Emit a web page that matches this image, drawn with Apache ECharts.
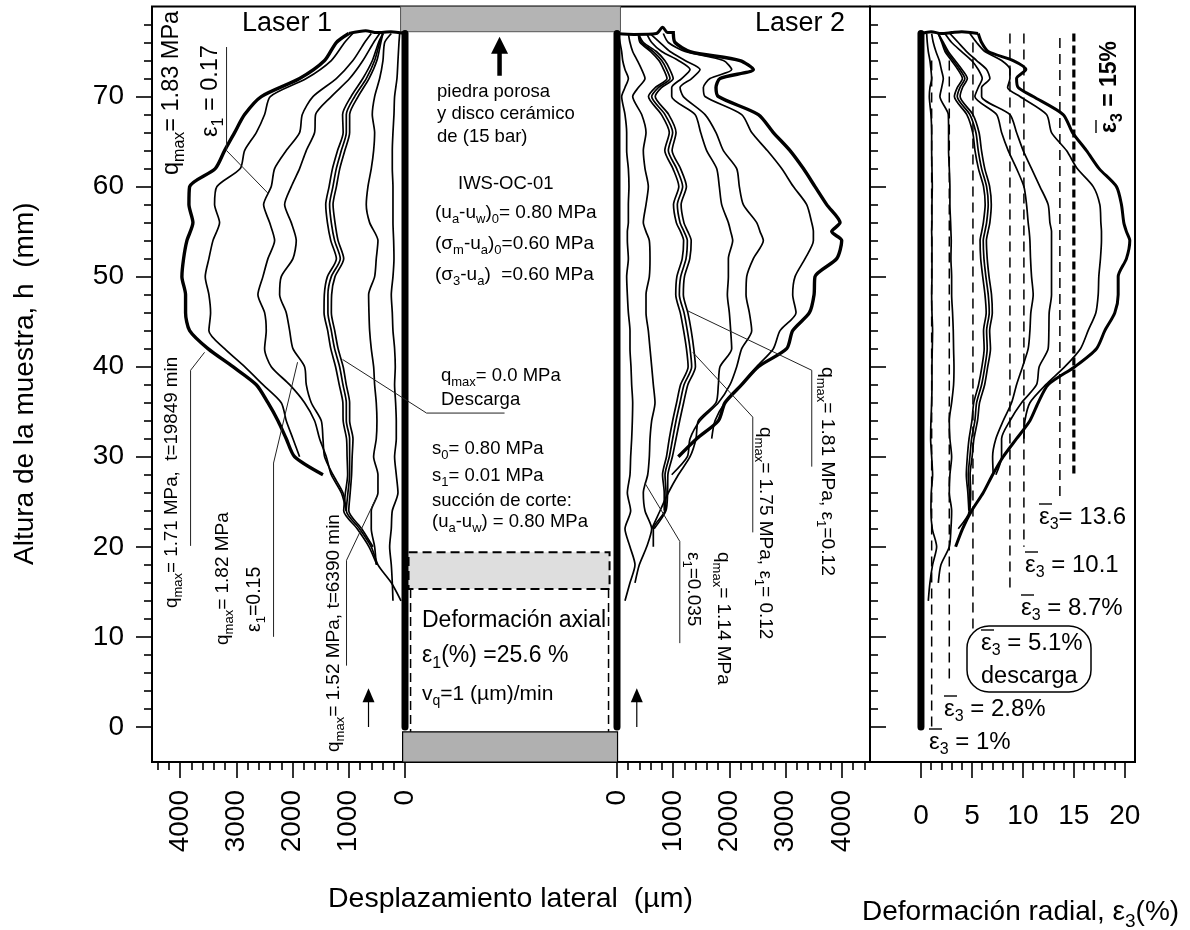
<!DOCTYPE html>
<html>
<head>
<meta charset="utf-8">
<title>IWS-OC-01</title>
<script src="https://cdn.jsdelivr.net/npm/echarts@6/dist/echarts.min.js"></script>
<style>
html, body { margin: 0; padding: 0; background: #fff; }
#chart { width: 1190px; height: 930px; }
</style>
</head>
<body>
<div id="chart"></div>
<script>
// alturas (mm) comunes a las curvas de cada panel
const H_LASER1 = [77, 76, 74, 72, 70, 68, 66, 64, 62, 60, 58, 56, 54, 52, 50, 48, 46, 44, 42, 40, 38, 36, 34, 32, 30, 28, 26, 24, 22, 20, 18, 16, 14]
const H_LASER2 = [77, 76, 75, 74, 73, 72, 71, 70, 68, 66, 64, 62, 60, 58, 56, 55, 54, 52, 50, 48, 46, 44, 42, 40, 38, 36, 34, 32, 30, 28, 26, 24, 22, 20, 18, 16, 14]

// Laser 1, desplazamiento lateral (um)
const L1_A = [1000, 1222, 1430, 1875, 2556, 2853, 3031, 3209, 3375, 3831, 3843, 3772, 3879, 3938, 3968, 3903, 3903, 3831, 3505, 3061, 2645, 2438, 2260, 2112, 1963, 1459]
const L1_B = [930, 1074, 1311, 1756, 2396, 2497, 2645, 2853, 2930, 3345, 3387, 3298, 3416, 3488, 3553, 3488, 3458, 3488, 3209, 2853, 2527, 2201, 2112, 1993, 1875]
const L1_C = [600, 718, 926, 1222, 1637, 1827, 1875, 2112, 2319, 2379, 2515, 2408, 2319, 2438, 2527, 2616, 2497, 2468, 2497, 2379, 2052, 1786, 1608, 1519, 1400, 1311, 1133, 1044]
const L1_D = [451, 558, 748, 985, 1311, 1590, 1608, 1756, 1875, 2023, 2141, 2023, 1934, 1993, 2201, 2230, 2112, 2052, 1993, 1786, 1756, 1667, 1489, 1459, 1430, 1281, 1104, 1044]
const L1_E = [392, 470, 580, 750, 960, 1110, 1100, 1200, 1290, 1350, 1410, 1380, 1320, 1220, 1380, 1435, 1440, 1375, 1320, 1235, 1170, 1105, 1100, 1040, 1030, 1020, 1060, 1090, 850, 640, 500]
const L1_F = [392, 451, 540, 689, 896, 1044, 1044, 1133, 1222, 1282, 1341, 1311, 1252, 1151, 1311, 1371, 1371, 1311, 1252, 1163, 1104, 1044, 1044, 985, 985, 985, 1015, 1044, 807, 600, 481, 243, 71]
const L1_G = [392, 430, 500, 640, 835, 985, 985, 1070, 1160, 1220, 1280, 1245, 1190, 1090, 1245, 1305, 1310, 1250, 1190, 1100, 1045, 985, 985, 925, 940, 950, 975, 1000, 770, 570]
const L1_H = [243, 362, 392, 451, 540, 582, 540, 558, 600, 659, 689, 629, 481, 511, 540, 647, 641, 629, 600, 558, 540, 511, 499, 511, 558, 481, 481, 600, 600, 540, 511]
const L1_I = [95, 107, 125, 143, 185, 196, 214, 226, 226, 214, 214, 214, 202, 196, 214, 244, 226, 214, 185, 173, 185, 167, 155, 155, 185, 155, 125, 226, 244, 273, 244, 226, 214]
const L1_TOP = [[0, 77], [250, 77.2], [500, 77.1], [700, 77.3], [1000, 77]]

// Laser 2, desplazamiento lateral (um)
const L2_A = [1002, 1032, 1299, 2188, 2425, 1832, 1761, 1803, 2514, 2781, 3078, 3315, 3522, 3730, 3967, 3819, 3997, 3908, 3522, 3505, 3422, 3125, 3018, 2514, 2218, 1921, 1803, 1417, 1091]
const L2_B = [824, 913, 1210, 1892, 2040, 1654, 1536, 1566, 2218, 2396, 2674, 2929, 3137, 3374, 3463, 3493, 3493, 3345, 3167, 3125, 3184, 2900, 2781, 2485, 2218, 1921, 1743, 1684]
const L2_C = [587, 765, 943, 1210, 1477, 1328, 1121, 1180, 1566, 1761, 1892, 2129, 2176, 2247, 2485, 2544, 2603, 2425, 2307, 2295, 2354, 2396, 2218, 2129, 2010, 1803, 1477, 1299, 1251, 973]
const L2_D = [528, 617, 795, 1091, 1299, 1150, 973, 973, 1388, 1488, 1595, 1773, 1820, 1862, 1981, 2022, 2058, 1981, 1981, 1963, 1998, 2022, 2040, 1832, 1803, 1761, 1447, 1405, 1299, 1091, 913, 765, 617]
const L2_E = [380, 470, 700, 850, 940, 1000, 790, 680, 920, 1050, 980, 1130, 1235, 1140, 1190, 1260, 1320, 1295, 1200, 1180, 1260, 1320, 1365, 1395, 1260, 1185, 1115, 1050, 985, 905, 900, 870, 660]
const L2_F = [380, 439, 646, 795, 884, 943, 735, 617, 854, 990, 913, 1061, 1168, 1073, 1121, 1192, 1251, 1228, 1133, 1109, 1192, 1251, 1299, 1328, 1192, 1121, 1050, 990, 931, 854, 872, 854, 646, 646]
const L2_G = [380, 410, 600, 745, 830, 890, 680, 560, 790, 930, 850, 995, 1100, 1005, 1055, 1130, 1185, 1160, 1065, 1045, 1125, 1185, 1235, 1265, 1130, 1060, 990, 930, 880, 810, 840, 840]
const L2_H = [202, 231, 279, 362, 439, 498, 380, 279, 439, 516, 468, 498, 557, 516, 468, 516, 575, 587, 575, 516, 516, 557, 587, 617, 646, 676, 617, 587, 575, 546, 468, 498, 617, 528, 397, 320]
const L2_I = [24, 53, 83, 101, 142, 202, 142, 83, 142, 172, 172, 202, 213, 202, 202, 184, 184, 202, 172, 184, 202, 231, 231, 249, 261, 279, 273, 261, 243, 231, 184, 243, 142, 231, 320, 231, 142]
const L2_TOP = [[0, 77], [300, 76.9], [700, 77], [812, 77.7], [900, 77.1], [1030, 77.1]]

// deformacion radial (%)
const E3_A = [5.62, 5.95, 6.6, 9.05, 10.29, 9.38, 9.54, 11.01, 13.95, 14.87, 16.24, 17.48, 19.18, 19.67, 19.9, 20.16, 20.49, 20.16, 19.35, 19.35, 19.02, 18.04, 17.22, 15.1, 12.48, 11.5, 10.69, 9.38, 8.07, 7.03, 6.11, 4.97, 4.08, 3.4]
const E3_B = [4.8, 5.46, 6.27, 7.91, 8.73, 8.73, 8.5, 9.71, 12.32, 12.81, 14.28, 15.33, 16.9, 17.55, 17.65, 17.71, 17.71, 17.61, 17.45, 17.39, 17.16, 16.4, 15.65, 14.12, 12.25, 10.69, 10.2, 10.1]
const E3_C = [2.84, 3.66, 4.48, 5.46, 6.44, 6.76, 5.95, 5.95, 8.73, 9.38, 10.03, 10.85, 11.67, 12.48, 12.65, 12.81, 12.81, 12.81, 12.81, 12.81, 12.58, 12.55, 12.48, 11.6, 11.34, 9.87, 8.73, 7.91, 7.91, 7.35]
const E3_D = [2.35, 3.01, 3.99, 4.97, 5.62, 6.01, 5.62, 5.29, 7.42, 7.91, 8.56, 9.38, 10.1, 10.36, 10.52, 10.62, 10.69, 10.75, 10.85, 11.01, 10.78, 10.69, 10.52, 9.97, 9.38, 8.89, 8.07, 7.35, 7.03, 7.09]
const E3_E = [1.7, 2.2, 2.68, 3.35, 4.02, 4.55, 4.08, 3.84, 5.1, 5.7, 5.94, 6.26, 6.74, 6.9, 6.76, 6.58, 6.42, 6.5, 6.68, 6.92, 7.0, 6.74, 6.82, 6.55, 6.25, 5.75, 5.55, 5.2, 5.02, 4.82, 4.88, 4.8]
const E3_F = [1.7, 2.12, 2.52, 3.17, 3.82, 4.31, 3.82, 3.56, 4.8, 5.39, 5.62, 5.95, 6.44, 6.6, 6.44, 6.27, 6.11, 6.18, 6.37, 6.6, 6.7, 6.44, 6.5, 6.27, 5.95, 5.46, 5.29, 4.97, 4.8, 4.64, 4.74, 4.74, 3.66]
const E3_G = [1.7, 2.04, 2.36, 2.99, 3.62, 4.07, 3.56, 3.28, 4.5, 5.08, 5.3, 5.64, 6.14, 6.3, 6.12, 5.96, 5.8, 5.86, 6.06, 6.28, 6.4, 6.14, 6.2, 5.98, 5.65, 5.18, 5.0, 4.72, 4.55, 4.45, 4.6, 4.7]
const E3_H = [1.05, 1.21, 1.47, 1.8, 2.0, 2.19, 2.03, 1.86, 2.68, 2.71, 2.71, 2.78, 2.84, 2.84, 2.91, 2.94, 2.97, 2.94, 3.01, 3.01, 3.1, 3.17, 3.2, 3.24, 3.2, 3.01, 2.78, 2.84, 3.01, 2.84, 2.78, 3.01, 2.94, 2.78, 1.96, 1.7]
const E3_I = [0.56, 0.62, 0.72, 0.88, 0.98, 1.05, 0.88, 0.82, 0.98, 1.05, 1.05, 1.08, 1.11, 1.08, 1.08, 1.05, 1.08, 1.08, 1.08, 1.05, 1.08, 1.14, 1.11, 1.08, 1.08, 1.05, 0.98, 0.95, 1.05, 1.14, 1.01, 0.98, 1.11, 1.54, 1.14, 0.88, 0.72]
const E3_TOP = [[0, 77], [1, 77.2], [2, 77], [3, 77.1], [4, 77.2], [5.6, 77]]

// deformacion radial media: valor, altura superior e inferior del tramo (mm)
const MEAN_EPS = [1.05, 2.78, 5.1, 8.73, 10.1, 13.63]
const MEAN_TOP = [74, 74, 76, 77, 77, 76.5]
const MEAN_BOTTOM = [0, 5, 10.4, 15, 20, 25]
const MEAN_THICK = [[15, 77], [15, 28]]

// ejes
const H_TICKS = [0, 10, 20, 30, 40, 50, 60, 70]
const H_MINOR = [2, 4, 6, 8, 12, 14, 16, 18, 22, 24, 26, 28, 32, 34, 36, 38, 42, 44, 46, 48, 52, 54, 56, 58, 62, 64, 66, 68, 72, 74, 76, 78]
const UM_TICKS = [0, 1000, 2000, 3000, 4000]
const UM_MINOR = [200, 400, 600, 800, 1200, 1400, 1600, 1800, 2200, 2400, 2600, 2800, 3200, 3400, 3600, 3800, 4200, 4400]
const EPS_TICKS = [0, 5, 10, 15, 20]
const EPS_MINOR = [1, 2, 3, 4, 6, 7, 8, 9, 11, 12, 13, 14, 16, 17, 18, 19]

// lineas guia de las anotaciones: [um, mm]
const GUIDE_L1 = [
    [[3174, 75.5], [3174, 64], [2427, 59.2]],
    [[3814, 20.1], [3814, 39.6], [3565, 41.6]],
    [[2338, 10], [2338, 29.3], [1911, 40.5]],
    [[1040, 6.8], [1040, 18.5], [507, 25.5]]
]
const GUIDE_L2 = [
    [[3464, 28.9], [3464, 39.6], [1259, 46.2]],
    [[2415, 21.6], [2415, 34.4], [1348, 41.6]],
    [[1117, 9.3], [1117, 20.6], [494, 27.1]]
]
// piezas de la celda sobre el ancho de la muestra (um desde la cara del Laser 1)
const GUIDE_CENTER = [[1769, 34.85], [382, 34.85], [-1111, 40.8]]
const STONE_TOP = [-80, 3830, 77.2, 80]
const STONE_BOTTOM = [-44, 3778, -3.9, -0.55]
const STONE_MID = [62, 3636, 15.3, 19.4]
const SIDE_DASH = [98, 3618]
const ARROW_CENTER = [1680, 72.3, 75.7]
const ARROW_L1 = [649, 0, 3.5]
const ARROW_L2 = [352, 0, 3.5]

const FONT = '"Liberation Sans", Arial, sans-serif'
const BLACK = '#000'

const zip = (hs, vs) => vs.map((v, i) => [v, hs[i]])

const curve = (data, axis, width) => ({
    type: 'line',
    data,
    xAxisIndex: axis.x,
    yAxisIndex: axis.y,
    symbol: 'none',
    smooth: 0.25,
    silent: true,
    lineStyle: { color: BLACK, width: width || 1.7 }
})

const straight = (data, axis, style) => ({
    type: 'line',
    data,
    xAxisIndex: axis.x,
    yAxisIndex: axis.y,
    symbol: 'none',
    silent: true,
    z: 3,
    lineStyle: Object.assign({ color: '#222', width: 1 }, style)
})

const AXIS_L1 = { x: 0, y: 0 }
const AXIS_L2 = { x: 2, y: 2 }
const AXIS_E3 = { x: 4, y: 3 }
const AXIS_CELL = { x: 6, y: 5 }

const block = (row, fill, stroke) => ({
    type: 'custom',
    xAxisIndex: AXIS_CELL.x,
    yAxisIndex: AXIS_CELL.y,
    silent: true,
    z: 1,
    data: [row],
    renderItem: (params, api) => {
        const a = api.coord([api.value(0), api.value(3)])
        const b = api.coord([api.value(1), api.value(2)])
        return {
            type: 'rect',
            shape: { x: a[0], y: a[1], width: b[0] - a[0], height: b[1] - a[1] },
            style: Object.assign({ fill }, stroke)
        }
    }
})

const arrow = (a, axis, stem, size) => straight([
    { value: [a[0], a[1]], symbol: 'none' },
    { value: [a[0], a[2]], symbol: 'triangle', symbolSize: size, itemStyle: { color: BLACK } }
], axis, { color: BLACK, width: stem })

const series = [
    block(STONE_TOP, '#b4b4b4', { stroke: '#555', lineWidth: 1 }),
    block(STONE_BOTTOM, '#b0b0b0', { stroke: BLACK, lineWidth: 1.2 }),
    block(STONE_MID, '#dedede', { stroke: BLACK, lineWidth: 2, lineDash: [9, 5] }),
    straight([[SIDE_DASH[0], 15.3], [SIDE_DASH[0], -0.55]], AXIS_CELL, { color: BLACK, width: 1.5, type: [9, 5] }),
    straight([[SIDE_DASH[1], 15.3], [SIDE_DASH[1], -0.55]], AXIS_CELL, { color: BLACK, width: 1.5, type: [9, 5] })
]

;[L1_B, L1_C, L1_D, L1_E, L1_F, L1_G, L1_H, L1_I].forEach(v => series.push(curve(zip(H_LASER1, v), AXIS_L1)))
series.push(curve(zip(H_LASER1, L1_A), AXIS_L1, 3.4))
series.push(curve(L1_TOP, AXIS_L1, 3))

;[L2_B, L2_C, L2_D, L2_E, L2_F, L2_G, L2_H, L2_I].forEach(v => series.push(curve(zip(H_LASER2, v), AXIS_L2)))
series.push(curve(zip(H_LASER2, L2_A), AXIS_L2, 3.4))
series.push(curve(L2_TOP, AXIS_L2, 3))

;[E3_B, E3_C, E3_D, E3_E, E3_F, E3_G, E3_H, E3_I].forEach(v => series.push(curve(zip(H_LASER2, v), AXIS_E3)))
series.push(curve(zip(H_LASER2, E3_A), AXIS_E3, 3))
series.push(curve(E3_TOP, AXIS_E3, 3))

MEAN_EPS.forEach((e, i) => {
    series.push(straight([[e, MEAN_TOP[i]], [e, MEAN_BOTTOM[i]]], AXIS_E3, { color: BLACK, width: 1.5, type: [10, 6] }))
})
series.push(straight(MEAN_THICK, AXIS_E3, { color: BLACK, width: 3.2, type: [8, 4] }))

const bar = { color: BLACK, width: 7, cap: 'round' }
series.push(straight([[0, 77], [0, 0]], AXIS_L1, bar))
series.push(straight([[0, 77], [0, 0]], AXIS_L2, bar))
series.push(straight([[0, 77], [0, 0]], AXIS_E3, bar))

GUIDE_L1.forEach(g => series.push(straight(g, AXIS_L1)))
GUIDE_L2.forEach(g => series.push(straight(g, AXIS_L2)))
series.push(straight(GUIDE_CENTER, AXIS_CELL))

series.push(arrow(ARROW_CENTER, AXIS_CELL, 4.5, [17, 17]))
series.push(arrow(ARROW_L1, AXIS_L1, 1.2, [12, 14]))
series.push(arrow(ARROW_L2, AXIS_L2, 1.2, [12, 14]))

const Y_MIN = -3.9
const Y_MAX = 80
const tickLine = { color: BLACK, width: 1.6 }
const noLine = { show: false, onZero: false }
const plain = v => String(v)

const bottomAxis = (gridIndex, min, max, inverse, ticks, minor, label) => [
    {
        type: 'value', gridIndex, min, max, inverse, position: 'bottom',
        splitLine: { show: false }, axisLine: noLine,
        axisTick: { length: 16, lineStyle: tickLine, customValues: ticks },
        axisLabel: Object.assign({ customValues: ticks, formatter: plain, color: BLACK, fontFamily: FONT, fontSize: 28 }, label)
    },
    {
        type: 'value', gridIndex, min, max, inverse, position: 'bottom',
        splitLine: { show: false }, axisLine: noLine,
        axisTick: { length: 8, lineStyle: tickLine, customValues: minor },
        axisLabel: { show: false }
    }
]

const sideAxis = (gridIndex, position, inside, ticks, minor, label) => [
    {
        type: 'value', gridIndex, position, min: Y_MIN, max: Y_MAX,
        splitLine: { show: false }, axisLine: noLine,
        axisTick: { inside, length: 16, lineStyle: tickLine, customValues: ticks },
        axisLabel: label
    },
    {
        type: 'value', gridIndex, position, min: Y_MIN, max: Y_MAX,
        splitLine: { show: false }, axisLine: noLine,
        axisTick: { inside, length: 8, lineStyle: tickLine, customValues: minor },
        axisLabel: { show: false }
    }
]

const hiddenY = gridIndex => ({ type: 'value', gridIndex, min: Y_MIN, max: Y_MAX, show: false })

// texto con subindices: {s|...} en la marca, el resto normal
const note = (x, y, text, size, opts) => {
    const o = opts || {}
    const subSize = Math.round(size * 0.68)
    return {
        type: 'text',
        x, y,
        rotation: o.rot || 0,
        silent: true,
        z: 20,
        style: {
            text,
            fill: BLACK,
            fontFamily: FONT,
            fontSize: size,
            fontWeight: o.bold ? 'bold' : 'normal',
            align: 'left',
            verticalAlign: 'middle',
            rich: {
                s: {
                    fontFamily: FONT, fontSize: subSize, fill: BLACK,
                    fontWeight: o.bold ? 'bold' : 'normal',
                    verticalAlign: 'bottom', lineHeight: Math.round(size * 1.35)
                }
            }
        }
    }
}

// barra sobre la epsilon de las deformaciones medias
const overbar = (x, y, rot) => ({
    type: 'line',
    silent: true,
    z: 20,
    shape: rot
        ? { x1: x - 14, y1: y, x2: x - 14, y2: y - 13 }
        : { x1: x, y1: y - 13, x2: x + 13, y2: y - 13 },
    style: { stroke: BLACK, lineWidth: 1.4 }
})

const UP = Math.PI / 2
const DOWN = -Math.PI / 2

const notes = [
    note(242, 24, 'Laser 1', 27),
    note(755, 24, 'Laser 2', 27),
    note(172, 175, 'q{s|max}= 1.83 MPa', 23.5, { rot: UP }),
    note(211, 137, 'ε{s|1} = 0.17', 23.5, { rot: UP }),
    note(172, 608, 'q{s|max}= 1.71 MPa,  t=19849 min', 18.8, { rot: UP }),
    note(223, 645, 'q{s|max}= 1.82 MPa', 19, { rot: UP }),
    note(255, 632, 'ε{s|1}=0.15', 19.5, { rot: UP }),
    note(334, 752, 'q{s|max}= 1.52 MPa, t=6390 min', 19, { rot: UP }),
    note(827, 367, 'q{s|max}= 1.81 MPa, ε{s|1}=0.12', 19.2, { rot: DOWN }),
    note(765, 427, 'q{s|max}= 1.75 MPa, ε{s|1}= 0.12', 19, { rot: DOWN }),
    note(693, 552, 'ε{s|1}=0.035', 19, { rot: DOWN }),
    note(723, 552, 'q{s|max}= 1.14 MPa', 19, { rot: DOWN }),
    note(437, 92, 'piedra porosa', 18.5),
    note(437, 114, 'y disco cerámico', 18.5),
    note(437, 137, 'de (15 bar)', 18.5),
    note(458, 184, 'IWS-OC-01', 18.5),
    note(435, 213, '(u{s|a}-u{s|w}){s|0}= 0.80 MPa', 19),
    note(435, 244, '(σ{s|m}-u{s|a}){s|0}=0.60 MPa', 19),
    note(435, 275, '(σ{s|3}-u{s|a})  =0.60 MPa', 19),
    note(441, 376, 'q{s|max}= 0.0 MPa', 18.5),
    note(441, 400, 'Descarga', 18.5),
    note(432, 449, 's{s|0}= 0.80 MPa', 18.5),
    note(432, 476, 's{s|1}= 0.01 MPa', 18.5),
    note(432, 501, 'succión de corte:', 18.5),
    note(432, 522, '(u{s|a}-u{s|w}) = 0.80 MPa', 18.5),
    note(422, 621, 'Deformación axial', 23),
    note(422, 656, 'ε{s|1}(%) =25.6 %', 23),
    note(422, 694, 'v{s|q}=1 (µm)/min', 21),
    note(1110, 133, 'ε{s|3} = 15%', 23, { rot: UP, bold: true }),
    overbar(1110, 133, true),
    note(1039, 517, 'ε{s|3}= 13.6', 24),
    overbar(1039, 517),
    note(1025, 565, 'ε{s|3} = 10.1', 24),
    overbar(1025, 565),
    note(1021, 608, 'ε{s|3} = 8.7%', 24),
    overbar(1021, 608),
    note(981, 643, 'ε{s|3} = 5.1%', 24),
    overbar(981, 643),
    note(981, 677, 'descarga', 23.5),
    note(944, 709, 'ε{s|3} = 2.8%', 24),
    overbar(944, 709),
    note(929, 742, 'ε{s|3} = 1%', 24),
    overbar(929, 742),
    note(25, 565, 'Altura de la muestra, h  (mm)', 28, { rot: UP }),
    note(328, 899, 'Desplazamiento lateral  (µm)', 28.5),
    note(862, 912, 'Deformación radial, ε{s|3}(%)', 28)
]

const option = {
    animation: false,
    backgroundColor: '#fff',
    grid: [
        { left: 152, width: 253, top: 6.5, height: 755.5 },
        { left: 617, width: 253, top: 6.5, height: 755.5 },
        { left: 870, width: 265, top: 6.5, height: 755.5, show: true, borderColor: BLACK, borderWidth: 2, backgroundColor: 'transparent' },
        { left: 152, width: 718, top: 6.5, height: 755.5, show: true, borderColor: BLACK, borderWidth: 2, backgroundColor: 'transparent' }
    ],
    xAxis: [
        ...bottomAxis(0, 0, 4500, true, UM_TICKS, UM_MINOR, { rotate: 90, margin: 28 }),
        ...bottomAxis(1, 0, 4500, false, UM_TICKS, UM_MINOR, { rotate: 90, margin: 28 }),
        ...bottomAxis(2, -5, 21, false, EPS_TICKS, EPS_MINOR, { margin: 40 }),
        { type: 'value', gridIndex: 3, min: -4500, max: 8267, show: false }
    ],
    yAxis: [
        ...sideAxis(0, 'left', false, H_TICKS, H_MINOR, { customValues: H_TICKS, color: BLACK, fontFamily: FONT, fontSize: 28, margin: 28 }),
        hiddenY(1),
        ...sideAxis(2, 'left', true, H_TICKS, H_MINOR, { show: false }),
        hiddenY(3)
    ],
    series,
    graphic: [
        { type: 'rect', shape: { x: 967, y: 626, width: 124, height: 66, r: 22 }, silent: true, z: 15, style: { fill: '#fff', stroke: BLACK, lineWidth: 1.5 } },
        ...notes
    ]
}

const myChart = echarts.init(document.getElementById('chart'))
myChart.setOption(option)
</script>
</body>
</html>
